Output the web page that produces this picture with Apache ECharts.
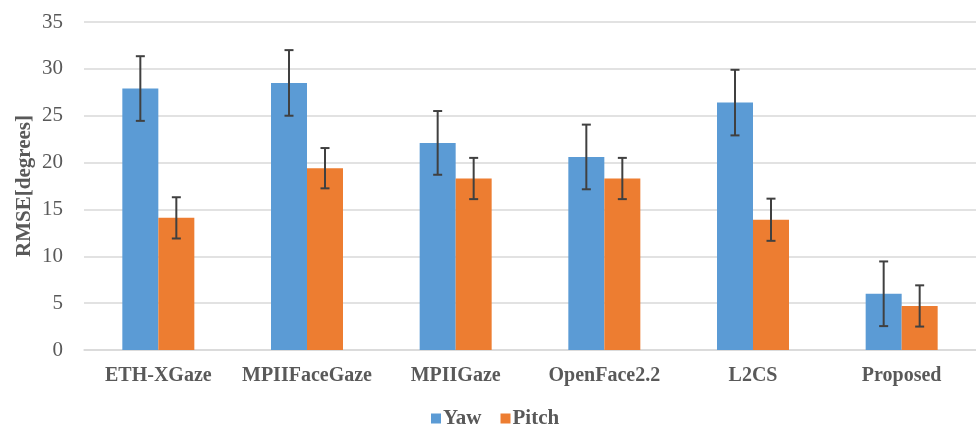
<!DOCTYPE html>
<html>
<head>
<meta charset="utf-8">
<script src="https://cdn.jsdelivr.net/npm/echarts@6/dist/echarts.min.js"></script>
<style>
  html, body { margin: 0; padding: 0; background: #fff; }
  #chart { width: 976px; height: 428px; }
</style>
</head>
<body>
<div id="chart"></div>
<script>
// Gaze estimation error per method (RMSE in degrees, mean ± std)
const methods = ['ETH-XGaze', 'MPIIFaceGaze', 'MPIIGaze', 'OpenFace2.2', 'L2CS', 'Proposed'];
const yawMean = [27.9, 28.5, 22.1, 20.6, 26.4, 6.0];
const yawStd = [3.45, 3.5, 3.4, 3.45, 3.5, 3.45];
const pitchMean = [14.1, 19.4, 18.3, 18.3, 13.9, 4.7];
const pitchStd = [2.2, 2.15, 2.2, 2.2, 2.25, 2.2];
const yTicks = [0, 5, 10, 15, 20, 25, 30, 35];
const yTitle = 'RMSE[degrees]';

const BAR_W = 36;
const textColor = '#595959';
const serif = '"Liberation Serif", "Times New Roman", serif';

// Whisker drawn at the bar centre, shifted left/right within the category band
function errorSeries(name, means, stds, shift) {
  return {
    name: name + ' error',
    type: 'custom',
    silent: true,
    z: 10,
    data: means.map((m, i) => [i, m - stds[i], m + stds[i]]),
    renderItem: function (params, api) {
      const lo = api.coord([api.value(0), api.value(1)]);
      const hi = api.coord([api.value(0), api.value(2)]);
      const x = lo[0] + shift;
      const cap = 4.5;
      const style = { stroke: '#404040', lineWidth: 2 };
      return {
        type: 'group',
        children: [
          { type: 'line', shape: { x1: x, y1: hi[1], x2: x, y2: lo[1] }, style: style },
          { type: 'line', shape: { x1: x - cap, y1: hi[1], x2: x + cap, y2: hi[1] }, style: style },
          { type: 'line', shape: { x1: x - cap, y1: lo[1], x2: x + cap, y2: lo[1] }, style: style }
        ]
      };
    }
  };
}

const chart = echarts.init(document.getElementById('chart'), null, { renderer: 'canvas' });
chart.setOption({
  backgroundColor: '#ffffff',
  animation: false,
  grid: { left: 84, right: 0, top: 22, bottom: 78 },
  // Vertical axis title, placed just left of the tick labels
  graphic: [{
    type: 'text',
    x: 25,
    y: 186,
    rotation: Math.PI / 2,
    style: {
      text: yTitle,
      fontFamily: serif,
      fontWeight: 'bold',
      fontSize: 21,
      fill: textColor,
      align: 'center',
      verticalAlign: 'middle'
    }
  }],
  legend: {
    data: ['Yaw', 'Pitch'],
    top: 408,
    left: 431,
    padding: 0,
    icon: 'rect',
    itemWidth: 10,
    itemHeight: 10,
    itemGap: 19,
    textStyle: { fontFamily: serif, fontWeight: 'bold', fontSize: 21, color: textColor, padding: [0, 0, 0, -3] }
  },
  xAxis: {
    type: 'category',
    data: methods,
    axisLine: { lineStyle: { color: '#d9d9d9', width: 1.5 } },
    axisTick: { show: false },
    axisLabel: { interval: 0, fontFamily: serif, fontWeight: 'bold', fontSize: 20, color: textColor, margin: 16 }
  },
  yAxis: {
    type: 'value',
    min: yTicks[0],
    max: yTicks[yTicks.length - 1],
    interval: 5,
    axisLine: { show: false },
    axisTick: { show: false },
    axisLabel: { fontFamily: serif, fontSize: 21, color: textColor, margin: 21 },
    splitLine: { lineStyle: { color: '#d9d9d9', width: 1.5 } }
  },
  series: [
    {
      name: 'Yaw', type: 'bar', data: yawMean, barWidth: BAR_W, barGap: '0%',
      itemStyle: { color: '#5B9BD5' }
    },
    {
      name: 'Pitch', type: 'bar', data: pitchMean, barWidth: BAR_W, barGap: '0%',
      itemStyle: { color: '#ED7D31' }
    },
    errorSeries('Yaw', yawMean, yawStd, -BAR_W / 2),
    errorSeries('Pitch', pitchMean, pitchStd, BAR_W / 2)
  ]
});
</script>
</body>
</html>
